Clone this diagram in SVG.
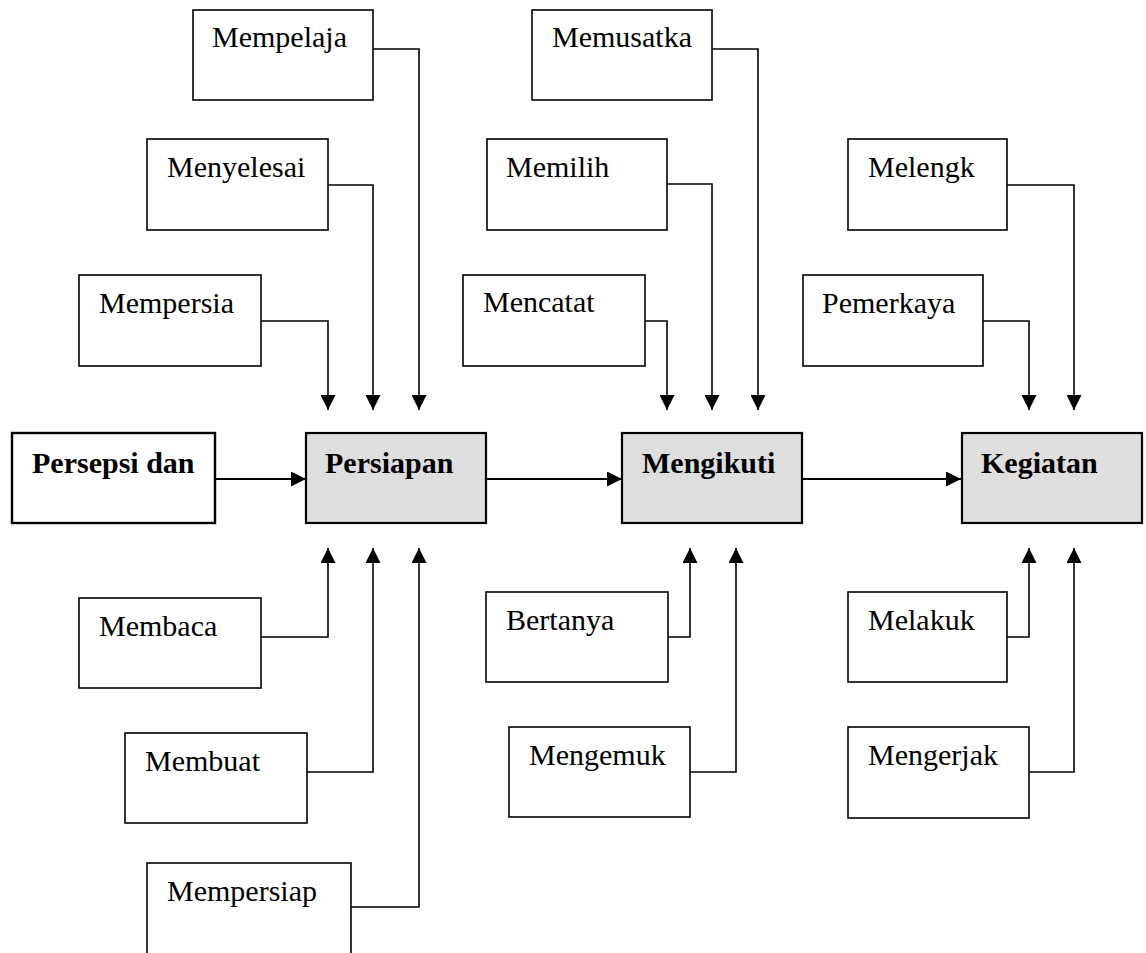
<svg xmlns="http://www.w3.org/2000/svg" width="1146" height="953" viewBox="0 0 1146 953">
<style>
.box{fill:#fff;stroke:#000;stroke-width:1.6}
.main{fill:#dedede;stroke:#000;stroke-width:2.2}
.start{fill:#fff;stroke:#000;stroke-width:2.4}
.t{font-family:"Liberation Serif",serif;font-size:30px;fill:#000}
.b{font-family:"Liberation Serif",serif;font-size:30px;font-weight:bold;fill:#000}
.c{fill:none;stroke:#000;stroke-width:1.6}
.m{fill:none;stroke:#000;stroke-width:2}
</style>
<defs>
<marker id="ah" markerUnits="userSpaceOnUse" markerWidth="15" markerHeight="15" refX="14" refY="7" orient="auto" viewBox="0 0 14 14">
<path d="M0,0 L14,7 L0,14 z" fill="#000"/>
</marker>
</defs>
<rect width="1146" height="953" fill="#fff"/>
<g id="connectors">
<path class="m" d="M215,479 H306" marker-end="url(#ah)"/>
<path class="m" d="M487,479 H622" marker-end="url(#ah)"/>
<path class="m" d="M802,479 H961" marker-end="url(#ah)"/>
<path class="c" d="M373,49 H419 V410" marker-end="url(#ah)"/>
<path class="c" d="M328,185 H373 V410" marker-end="url(#ah)"/>
<path class="c" d="M261,321 H328 V410" marker-end="url(#ah)"/>
<path class="c" d="M261,637 H328 V548" marker-end="url(#ah)"/>
<path class="c" d="M307,772 H373 V548" marker-end="url(#ah)"/>
<path class="c" d="M351,907 H419 V548" marker-end="url(#ah)"/>
<path class="c" d="M712,49 H758 V410" marker-end="url(#ah)"/>
<path class="c" d="M667,184 H712 V410" marker-end="url(#ah)"/>
<path class="c" d="M645,321 H667 V410" marker-end="url(#ah)"/>
<path class="c" d="M668,637 H690 V548" marker-end="url(#ah)"/>
<path class="c" d="M690,772 H736 V548" marker-end="url(#ah)"/>
<path class="c" d="M1007,185 H1074 V410" marker-end="url(#ah)"/>
<path class="c" d="M983,321 H1029 V410" marker-end="url(#ah)"/>
<path class="c" d="M1007,637 H1029 V548" marker-end="url(#ah)"/>
<path class="c" d="M1029,772 H1074 V548" marker-end="url(#ah)"/>
</g>
<g id="n-persepsi"><rect class="start" x="12" y="433" width="203" height="90"/><text class="b" x="32" y="473">Persepsi dan</text></g>
<g id="n-persiapan"><rect class="main" x="306" y="433" width="180" height="90"/><text class="b" x="325" y="473">Persiapan</text></g>
<g id="n-mengikuti"><rect class="main" x="622" y="433" width="180" height="90"/><text class="b" x="642" y="473">Mengikuti</text></g>
<g id="n-kegiatan"><rect class="main" x="962" y="433" width="180" height="90"/><text class="b" x="981" y="473">Kegiatan</text></g>
<g id="n-mempelaja"><rect class="box" x="193" y="10" width="180" height="90"/><text class="t" x="212" y="47">Mempelaja</text></g>
<g id="n-menyelesai"><rect class="box" x="147" y="139" width="181" height="91"/><text class="t" x="167" y="177">Menyelesai</text></g>
<g id="n-mempersia"><rect class="box" x="79" y="275" width="182" height="91"/><text class="t" x="99" y="313">Mempersia</text></g>
<g id="n-membaca"><rect class="box" x="79" y="598" width="182" height="90"/><text class="t" x="99" y="636">Membaca</text></g>
<g id="n-membuat"><rect class="box" x="125" y="733" width="182" height="90"/><text class="t" x="145" y="771">Membuat</text></g>
<g id="n-mempersiap"><rect class="box" x="147" y="863" width="204" height="92"/><text class="t" x="167" y="901">Mempersiap</text></g>
<g id="n-memusatka"><rect class="box" x="532" y="10" width="180" height="90"/><text class="t" x="552" y="47">Memusatka</text></g>
<g id="n-memilih"><rect class="box" x="487" y="139" width="180" height="91"/><text class="t" x="506" y="177">Memilih</text></g>
<g id="n-mencatat"><rect class="box" x="463" y="275" width="182" height="91"/><text class="t" x="483" y="312">Mencatat</text></g>
<g id="n-bertanya"><rect class="box" x="486" y="592" width="182" height="90"/><text class="t" x="506" y="630">Bertanya</text></g>
<g id="n-mengemuk"><rect class="box" x="509" y="727" width="181" height="90"/><text class="t" x="529" y="765">Mengemuk</text></g>
<g id="n-melengk"><rect class="box" x="848" y="139" width="159" height="91"/><text class="t" x="868" y="177">Melengk</text></g>
<g id="n-pemerkaya"><rect class="box" x="803" y="275" width="180" height="91"/><text class="t" x="822" y="313">Pemerkaya</text></g>
<g id="n-melakuk"><rect class="box" x="848" y="592" width="159" height="90"/><text class="t" x="868" y="630">Melakuk</text></g>
<g id="n-mengerjak"><rect class="box" x="848" y="727" width="181" height="91"/><text class="t" x="868" y="765">Mengerjak</text></g>
</svg>
